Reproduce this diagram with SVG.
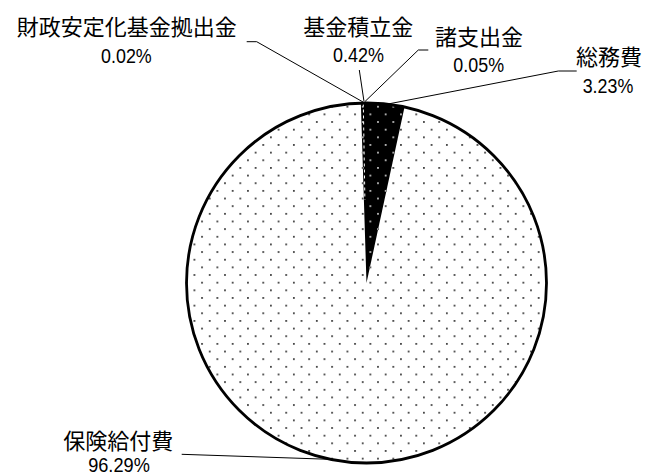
<svg xmlns="http://www.w3.org/2000/svg" width="645" height="476" viewBox="0 0 645 476">
<style>
.cjk{font-family:"Liberation Sans","Noto Sans CJK JP",sans-serif;font-size:22px;fill:#000;text-anchor:middle}
.num{font-family:"Liberation Sans","Noto Sans CJK JP",sans-serif;font-size:19.5px;fill:#000;text-anchor:middle}
.leader{fill:none;stroke:#000;stroke-width:1}
</style>
<defs>
<pattern id="dotsLight" patternUnits="userSpaceOnUse" x="346.5" y="243.5" width="15.3" height="15.3">
<rect width="15.3" height="15.3" fill="#fff"/>
<rect x="0" y="0" width="1.8" height="1.8" fill="#444"/>
<rect x="7.65" y="7.65" width="1.8" height="1.8" fill="#444"/>
</pattern>
<pattern id="dotsDark" patternUnits="userSpaceOnUse" x="346.5" y="243.5" width="15.3" height="15.3">
<rect width="15.3" height="15.3" fill="#000"/>
<rect x="0" y="0" width="1.8" height="1.8" fill="#bbb"/>
<rect x="7.65" y="7.65" width="1.8" height="1.8" fill="#bbb"/>
</pattern>
</defs>
<rect width="645" height="476" fill="#fff"/>

<g id="pie">
<circle id="slice-hoken" cx="366.5" cy="283" r="180" fill="url(#dotsLight)"/>
<path id="slice-small" d="M366.5 283 L360.85 103.09 A180 180 0 0 1 404.54 107.06 Z" fill="url(#dotsDark)"/>
<line x1="363.3" y1="103.5" x2="364.9" y2="200" stroke="#fff" stroke-width="1" stroke-dasharray="3,3"/>
<circle cx="366.5" cy="283" r="180" fill="none" stroke="#000" stroke-width="2.8"/>
</g>

<g id="connectors">
<polyline class="leader" points="246.7,41.7 256.7,41.7 363,102"/>
<line class="leader" x1="359.3" y1="70" x2="364" y2="101.5"/>
<polyline class="leader" points="428.3,50 418.3,50 365,101.5"/>
<polyline class="leader" points="576.7,71 558.3,71 388,104"/>
<line class="leader" x1="181.7" y1="454.3" x2="330" y2="459.3" stroke="#333"/>
</g>

<g id="label-zaisei">
<text class="cjk" x="126.7" y="35">財政安定化基金拠出金</text>
<text class="num" x="126.4" y="62.7" textLength="50.7" lengthAdjust="spacingAndGlyphs">0.02%</text>
</g>
<g id="label-kikin">
<text class="cjk" x="358.3" y="35">基金積立金</text>
<text class="num" x="358.5" y="62.3" textLength="51" lengthAdjust="spacingAndGlyphs">0.42%</text>
</g>
<g id="label-shoshishutsu">
<text class="cjk" x="479" y="45">諸支出金</text>
<text class="num" x="478.7" y="71.7" textLength="50.7" lengthAdjust="spacingAndGlyphs">0.05%</text>
</g>
<g id="label-somu">
<text class="cjk" x="609" y="64.5">総務費</text>
<text class="num" x="608" y="92.7" textLength="50.6" lengthAdjust="spacingAndGlyphs">3.23%</text>
</g>
<g id="label-hoken">
<text class="cjk" x="118.3" y="449">保険給付費</text>
<text class="num" x="119" y="471.5" textLength="61.7" lengthAdjust="spacingAndGlyphs">96.29%</text>
</g>
</svg>
